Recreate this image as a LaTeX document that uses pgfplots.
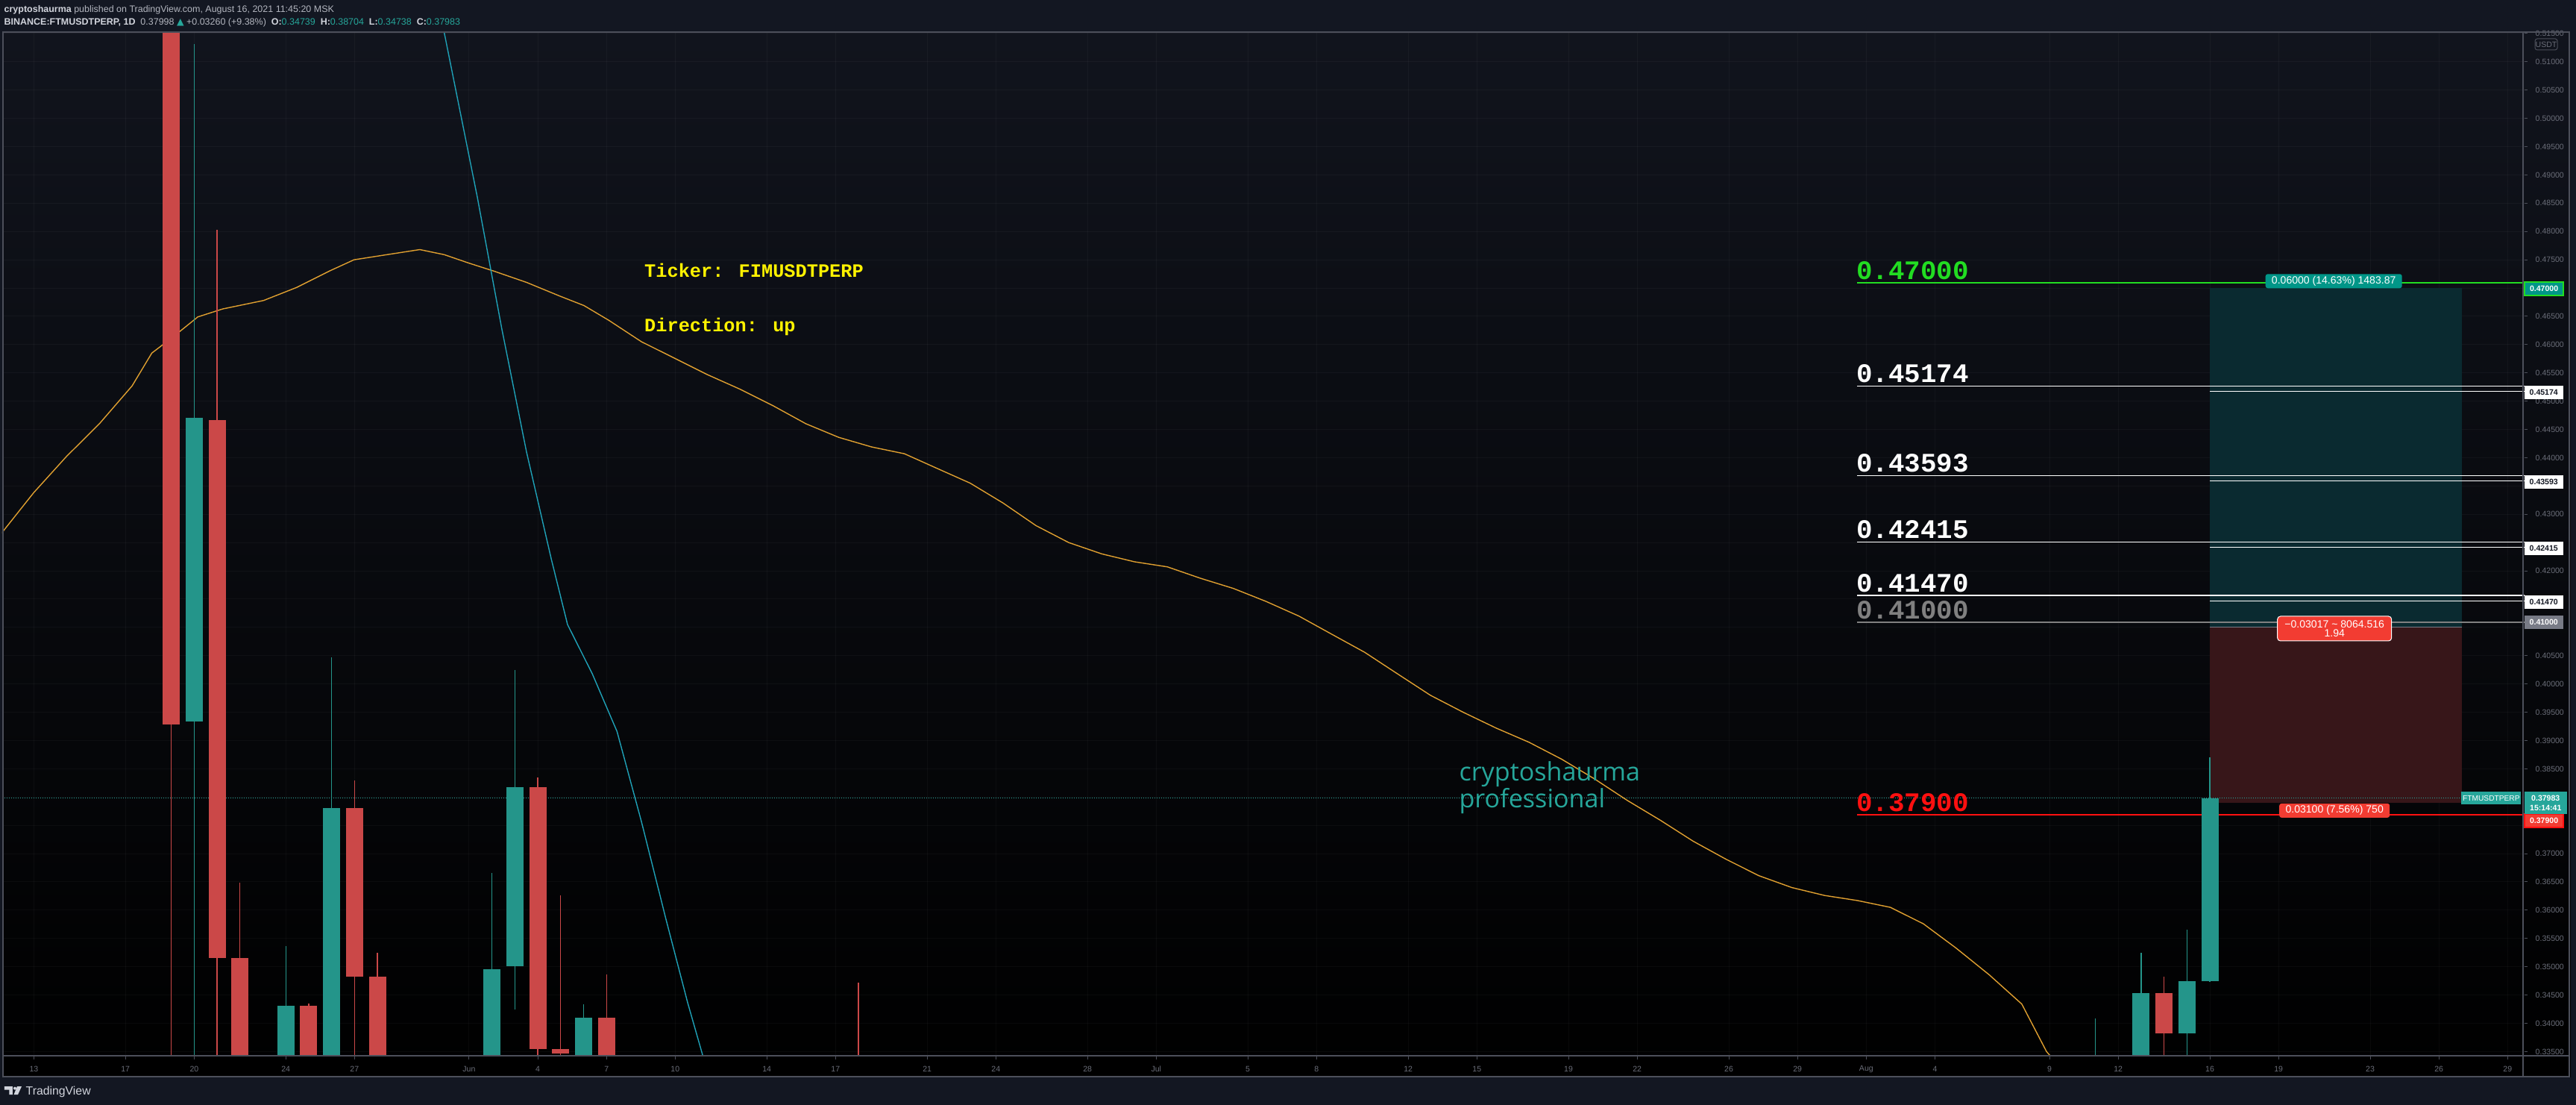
\documentclass[border=0pt]{standalone}
\usepackage{fontspec}
\setmainfont{Liberation Sans}
\newfontfamily\monofont{Liberation Mono}
\newfontfamily\wmfont{Open Sans}
\newfontfamily\symfont{DejaVu Sans}
\usepackage{pgfplots}
\pgfplotsset{compat=1.18}

\definecolor{tvbg}{HTML}{131722}
\definecolor{tvtop}{HTML}{11141D}
\definecolor{tvmid}{HTML}{07080C}
\definecolor{tvborder}{HTML}{4C4F5A}
\definecolor{tvlab}{HTML}{6A6D78}
\definecolor{tvhead}{HTML}{D1D4DC}
\definecolor{tvheadn}{HTML}{B2B5BE}
\definecolor{upc}{HTML}{24958A}
\definecolor{dnc}{HTML}{CB4848}
\definecolor{maorange}{HTML}{E0A030}
\definecolor{macyan}{HTML}{1FA2B8}
\definecolor{tpzone}{HTML}{0A2A30}
\definecolor{slzone}{HTML}{371619}
\definecolor{lvgreen}{HTML}{22DD22}
\definecolor{lvgrey}{HTML}{808080}
\definecolor{lvred}{HTML}{FF1010}
\definecolor{tpbox}{HTML}{009688}
\definecolor{slbox}{HTML}{F23C32}
\definecolor{curbox}{HTML}{26A69A}
\definecolor{greybox}{HTML}{787B86}
\definecolor{wmteal}{HTML}{26A69A}

\begin{document}
\begin{tikzpicture}
\fill[tvbg] (0cm,0cm) rectangle (34.54cm,14.81cm);
\shade[top color=tvtop, middle color=tvmid, bottom color=black] (0.03cm,0.37cm) rectangle (34.47cm,14.38cm);

\begin{axis}[
    at={(0.03cm,0.65cm)}, anchor=south west,
    width=33.82cm, height=13.73cm, scale only axis,
    xmin=-20.38, xmax=89.74, ymin=0.33413, ymax=0.51526,
    axis line style={draw=none},
    xtick pos=left, ytick pos=right,
    tick align=outside, major tick length=0.04cm,
    tick style={draw=tvborder, line width=0.01cm},
    xtick={-19,-15,-12,-8,-5,0,3,6,9,13,16,20,23,27,30,34,37,41,44,48,51,55,58,61,64,69,72,76,79,83,86,89},
    xticklabels={13,17,20,24,27,Jun,4,7,10,14,17,21,24,28,Jul,5,8,12,15,19,22,26,29,Aug,4,9,12,16,19,23,26,29},
    ytick={0.335,0.340,0.345,0.350,0.355,0.360,0.365,0.370,0.375,0.380,0.385,0.390,0.395,0.400,0.405,
           0.410,0.415,0.420,0.425,0.430,0.435,0.440,0.445,0.450,0.455,0.460,0.465,0.470,0.475,0.480,
           0.485,0.490,0.495,0.500,0.505,0.510,0.515},
    yticklabels={0.33500,0.34000,0.34500,0.35000,0.35500,0.36000,0.36500,0.37000,,,0.38500,0.39000,0.39500,0.40000,0.40500,
           ,,0.42000,,0.43000,,0.44000,0.44500,0.45000,0.45500,0.46000,0.46500,,0.47500,0.48000,
           0.48500,0.49000,0.49500,0.50000,0.50500,0.51000,0.51500},
    xticklabel style={anchor=center, inner sep=0pt, yshift=-0.13cm, font=\fontsize{3}{3}\selectfont, text=tvlab},
    yticklabel style={anchor=west, inner sep=0pt, xshift=0.10cm, font=\fontsize{3}{3}\selectfont, text=tvlab},
    grid=major,
    major grid style={draw=white, opacity=0.035, line width=0.01cm},
    unbounded coords=jump,
]
% long position tool
\fill[tpzone] (axis cs:76,0.41) rectangle (axis cs:87,0.47);
\fill[slzone] (axis cs:76,0.379) rectangle (axis cs:87,0.41);
\draw[greybox, line width=0.01cm] (axis cs:76,0.41) -- (axis cs:87,0.41);

% drawn levels
\draw[lvgreen, line width=0.012cm] (axis cs:60.6,0.47094) -- (axis cs:89.74,0.47094);
\draw[white, line width=0.012cm] (axis cs:60.6,0.45269) -- (axis cs:89.74,0.45269);
\draw[white, line width=0.012cm] (axis cs:60.6,0.43688) -- (axis cs:89.74,0.43688);
\draw[white, line width=0.012cm] (axis cs:60.6,0.42510) -- (axis cs:89.74,0.42510);
\draw[white, line width=0.012cm] (axis cs:60.6,0.41565) -- (axis cs:89.74,0.41565);
\draw[white, line width=0.012cm] (axis cs:76,0.45174) -- (axis cs:89.74,0.45174);
\draw[white, line width=0.012cm] (axis cs:76,0.43593) -- (axis cs:89.74,0.43593);
\draw[white, line width=0.012cm] (axis cs:76,0.42415) -- (axis cs:89.74,0.42415);
\draw[white, line width=0.012cm] (axis cs:76,0.41470) -- (axis cs:89.74,0.41470);
\draw[lvgrey, line width=0.012cm] (axis cs:60.6,0.41091) -- (axis cs:89.74,0.41091);
\draw[lvred, line width=0.012cm] (axis cs:60.6,0.37688) -- (axis cs:89.74,0.37688);
\draw[curbox, line width=0.01cm, dash pattern=on 0.01cm off 0.02cm] (axis cs:-20.38,0.37983) -- (axis cs:87.1,0.37983);

% moving averages
\addplot[maorange, line width=0.014cm] coordinates {
(-20.44,0.4265) (-19.01,0.4338) (-17.58,0.4402) (-16.14,0.4460) (-14.71,0.4527)
(-13.85,0.4585) (-12.91,0.4614) (-11.84,0.4649) (-10.76,0.4663) (-8.97,0.4678)
(-7.53,0.4701) (-6.10,0.4730) (-5.02,0.4750) (-3.59,0.4759) (-2.15,0.4768)
(-1.08,0.4759) (0,0.4744) (1.08,0.4730) (2.51,0.4710) (3.95,0.4686)
(5.02,0.4669) (6.10,0.4643) (7.53,0.4605) (8.97,0.4576) (10.40,0.4547)
(11.84,0.4521) (13.27,0.4492) (14.71,0.4460) (16.14,0.4436) (17.58,0.4419)
(19.01,0.4407) (20.44,0.4381) (21.88,0.4355) (23.31,0.4320) (24.75,0.4280)
(26.18,0.4250) (27.62,0.4230) (29.05,0.4216) (30.49,0.4207) (31.92,0.4187)
(33.36,0.4169) (34.79,0.4146) (36.23,0.4120) (37.66,0.4088) (39.10,0.4056)
(40.53,0.4018) (41.97,0.3980) (43.40,0.3950) (44.84,0.3922) (46.27,0.3897)
(47.70,0.3867) (49.14,0.3832) (50.57,0.3794) (52.01,0.3759) (53.44,0.3722)
(54.88,0.3690) (56.31,0.3661) (57.75,0.3640) (59.18,0.3626) (60.62,0.3617)
(62.05,0.3605) (63.49,0.3576) (64.92,0.3533) (66.36,0.3486) (67.79,0.3434)
(68.87,0.3350) (69.94,0.3300)
};
\addplot[macyan, line width=0.014cm] coordinates {
(-1.36,0.5209) (-1.08,0.5151) (0.36,0.4861) (1.43,0.4628) (2.51,0.4410)
(3.59,0.4221) (4.30,0.4105) (5.38,0.4018) (6.46,0.3916) (7.53,0.3756)
(8.61,0.3582) (9.54,0.3437) (10.26,0.3335)
};

% candles: wicks (low-high) and bodies (open-close)
\addplot[upc, line width=0.013cm] coordinates {
(-12,0.30) (-12,0.5131) (-12,nan)
(-8,0.29) (-8,0.3536) (-8,nan)
(-6,0.31) (-6,0.4047) (-6,nan)
(1,0.31) (1,0.3666) (1,nan)
(2,0.3425) (2,0.4024) (2,nan)
(5,0.31) (5,0.3434) (5,nan)
(71,0.30) (71,0.3408) (71,nan)
(73,0.31) (73,0.3524) (73,nan)
(75,0.33) (75,0.3565) (75,nan)
(76,0.34738) (76,0.38704)
};
\addplot[upc, line width=0.23cm] coordinates {
(-12,0.3934) (-12,0.4471) (-12,nan)
(-8,0.30) (-8,0.3431) (-8,nan)
(-6,0.32) (-6,0.3780) (-6,nan)
(1,0.32) (1,0.3495) (1,nan)
(2,0.3501) (2,0.3818) (2,nan)
(5,0.32) (5,0.3410) (5,nan)
(71,0.31) (71,0.32) (71,nan)
(73,0.32) (73,0.3454) (73,nan)
(75,0.3382) (75,0.34739) (75,nan)
(76,0.34739) (76,0.37983)
};
\addplot[dnc, line width=0.013cm] coordinates {
(-13,0.20) (-13,0.60) (-13,nan)
(-11,0.30) (-11,0.4803) (-11,nan)
(-10,0.26) (-10,0.3649) (-10,nan)
(-7,0.30) (-7,0.3435) (-7,nan)
(-5,0.30) (-5,0.3829) (-5,nan)
(-4,0.29) (-4,0.3524) (-4,nan)
(3,0.31) (3,0.3835) (3,nan)
(4,0.30) (4,0.3626) (4,nan)
(6,0.30) (6,0.3486) (6,nan)
(17,0.28) (17,0.3472) (17,nan)
(74,0.32) (74,0.3483)
};
\addplot[dnc, line width=0.23cm] coordinates {
(-13,0.58) (-13,0.3928) (-13,nan)
(-11,0.4466) (-11,0.3515) (-11,nan)
(-10,0.3515) (-10,0.30) (-10,nan)
(-7,0.3431) (-7,0.32) (-7,nan)
(-5,0.3780) (-5,0.3483) (-5,nan)
(-4,0.3483) (-4,0.31) (-4,nan)
(3,0.3818) (3,0.3355) (3,nan)
(4,0.3355) (4,0.3346) (4,nan)
(6,0.3410) (6,0.32) (6,nan)
(17,0.30) (17,0.29) (17,nan)
(74,0.3454) (74,0.3382)
};
\end{axis}

\begin{scope}[x=0.01cm, y=0.01cm, shift={(0cm,14.81cm)}, yscale=-1]
% panel borders
\draw[tvborder, line width=0.015cm] (4,43) rectangle (3447,1444);
\draw[tvborder, line width=0.015cm] (3385,43) -- (3385,1444);
\draw[tvborder, line width=0.015cm] (4,1416) -- (3447,1416);

% header
\node[anchor=base west, inner sep=0pt, font=\fontsize{3.55}{4}\selectfont] at (5,17)
  {\textcolor{tvhead}{\bfseries cryptoshaurma} \textcolor{tvheadn}{published on TradingView.com, August 16, 2021 11:45:20 MSK}};
\node[anchor=base west, inner sep=0pt, font=\fontsize{3.55}{4}\selectfont] at (5,34)
  {\textcolor{tvhead}{\bfseries BINANCE:FTMUSDTPERP, 1D}\ \ \textcolor{tvheadn}{0.37998}\ \textcolor{curbox}{\symfont ▲}\ \textcolor{tvheadn}{+0.03260 (+9.38\%)}\ \
   \textcolor{tvhead}{\bfseries O:}\textcolor{curbox}{0.34739}\ \ \textcolor{tvhead}{\bfseries H:}\textcolor{curbox}{0.38704}\ \
   \textcolor{tvhead}{\bfseries L:}\textcolor{curbox}{0.34738}\ \ \textcolor{tvhead}{\bfseries C:}\textcolor{curbox}{0.37983}};

% USDT badge
\node[draw=tvborder, rounded corners=0.03cm, line width=0.01cm, fill=tvtop, text=tvlab, inner sep=0pt,
      minimum width=0.30cm, minimum height=0.15cm, font=\fontsize{3}{3}\selectfont] at (3416,59.5) {USDT};

% ticker notes
\node[anchor=base west, inner sep=0pt, text=yellow, font=\monofont\bfseries\fontsize{7.2}{8}\selectfont] at (864,372) {Ticker: FIMUSDTPERP};
\node[anchor=base west, inner sep=0pt, text=yellow, font=\monofont\bfseries\fontsize{7.2}{8}\selectfont] at (864,445) {Direction: up};

% level texts
\begin{scope}[every node/.style={anchor=base west, inner sep=0pt, font=\monofont\bfseries\fontsize{10.2}{11}\selectfont}]
\node[text=lvgreen] at (2490,375) {0.47000};
\node[text=white] at (2490,513) {0.45174};
\node[text=white] at (2490,633) {0.43593};
\node[text=white] at (2490,722) {0.42415};
\node[text=white] at (2490,794) {0.41470};
\node[text=lvgrey] at (2490,830) {0.41000};
\node[text=lvred] at (2490,1088) {0.37900};
\end{scope}

% watermark
\node[anchor=base west, inner sep=0pt, text=wmteal, font=\wmfont\fontsize{9.7}{10}\selectfont] at (1957,1047) {cryptoshaurma};
\node[anchor=base west, inner sep=0pt, text=wmteal, font=\wmfont\fontsize{9.7}{10}\selectfont] at (1957,1083) {professional};

% position tool labels
\node[fill=tpbox, rounded corners=0.03cm, inner sep=0pt, minimum width=1.83cm, minimum height=0.19cm,
      text=white, font=\fontsize{4}{4}\selectfont] at (3131,377) {0.06000 (14.63\%) 1483.87};
\node[fill=slbox, draw=white, line width=0.01cm, rounded corners=0.04cm, inner sep=0pt, minimum width=1.53cm,
      minimum height=0.33cm, align=center, text=white, font=\fontsize{4}{3.6}\selectfont] at (3132,843)
      {−0.03017 \textasciitilde{} 8064.516\\1.94};
\node[fill=slbox, rounded corners=0.03cm, inner sep=0pt, minimum width=1.48cm, minimum height=0.19cm,
      text=white, font=\fontsize{4}{4}\selectfont] at (3132,1087) {0.03100 (7.56\%) 750};

% price scale badges
\begin{scope}[every node/.style={anchor=west, inner sep=0pt, minimum width=0.52cm, minimum height=0.18cm,
      font=\bfseries\fontsize{3}{3}\selectfont}]
\node[fill=tpbox, draw=lvgreen, line width=0.02cm, text=white] at (3386,387.5) {0.47000};
\node[fill=white, text=tvbg] at (3386,526) {0.45174};
\node[fill=white, text=tvbg] at (3386,646) {0.43593};
\node[fill=white, text=tvbg] at (3386,735.5) {0.42415};
\node[fill=white, text=tvbg] at (3386,807) {0.41470};
\node[fill=greybox, text=white] at (3386,834) {0.41000};
\node[fill=slbox, draw=lvred, line width=0.02cm, text=white] at (3386,1101) {0.37900};
\end{scope}
\node[anchor=west, fill=curbox, inner sep=0pt, minimum width=0.57cm, minimum height=0.30cm, align=center,
      text=white, font=\bfseries\fontsize{3}{3.6}\selectfont] at (3386,1077) {0.37983\\15:14:41};
\node[anchor=east, fill=curbox, inner sep=0pt, minimum width=0.80cm, minimum height=0.17cm,
      text=white, font=\fontsize{2.9}{3}\selectfont] at (3383,1070.5) {FTMUSDTPERP};

% footer logo
\fill[tvhead] (6,1457) -- (17,1457) -- (17,1468) -- (12.5,1468) -- (12.5,1461.5) -- (6,1461.5) -- cycle;
\fill[tvhead] (20,1459.5) circle (0.02cm);
\fill[tvhead] (23,1457) -- (29,1457) -- (24,1468) -- (18.5,1468) -- cycle;
\node[anchor=base west, inner sep=0pt, text=tvhead, font=\fontsize{4.5}{5}\selectfont] at (34,1468) {TradingView};
\end{scope}

\pgfresetboundingbox
\path[use as bounding box] (0cm,0cm) rectangle (34.54cm,14.81cm);
\end{tikzpicture}
\end{document}
